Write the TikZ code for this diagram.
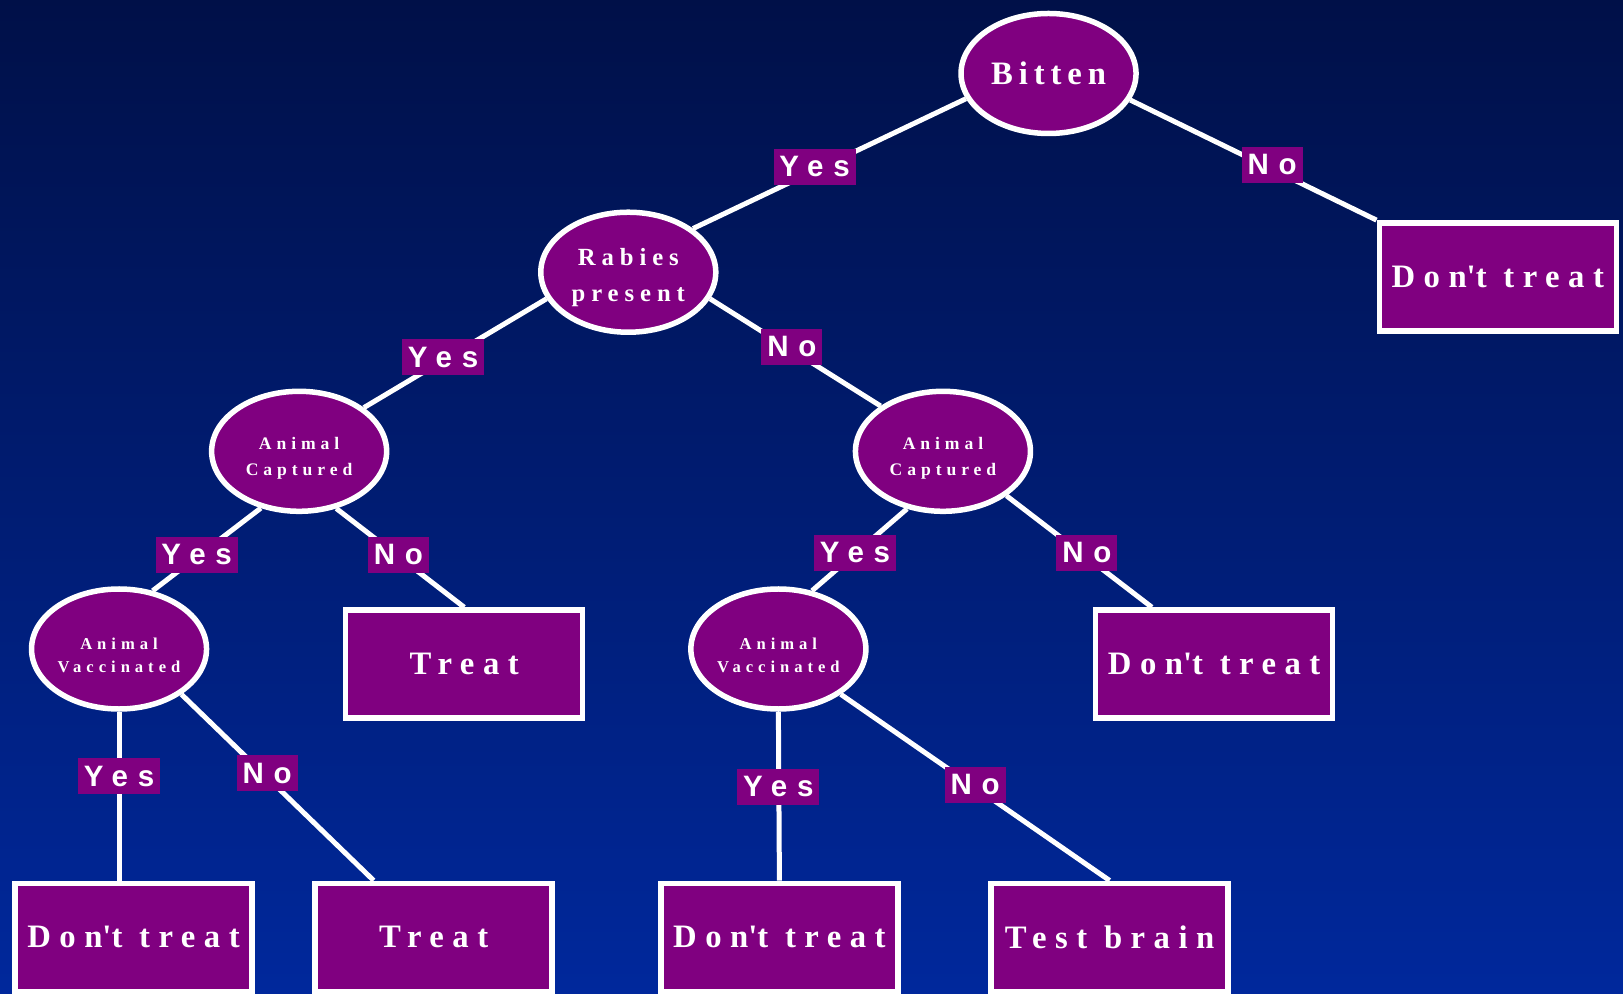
\documentclass[tikz,border=0pt]{standalone}
\usepackage{fontspec}
\newfontfamily\tnr{Liberation Serif}
\newfontfamily\ari{Liberation Sans}
\usetikzlibrary{shapes.geometric,calc}
\definecolor{pur}{HTML}{800080}
\definecolor{bgtop}{RGB}{0,16,72}
\definecolor{bgbot}{RGB}{0,40,156}
\pgfdeclarelayer{bg}
\pgfdeclarelayer{edges}
\pgfsetlayers{bg,edges,main}
\newcommand\lowtxt[2]{\raisebox{-#1}[\height][\depth]{\begin{tabular}{@{}c@{}}#2\end{tabular}}}
\tikzset{
  ell/.style={ellipse, draw=white, line width=5.5pt, fill=pur, minimum width=175pt,
    minimum height=120pt, inner sep=0pt, text=white, align=center},
  leaf/.style={rectangle, draw=white, line width=5.5pt, fill=pur, minimum width=237pt,
    minimum height=108pt, inner sep=0pt, text=white,
    font=\tnr\bfseries\fontsize{32.7pt}{36pt}\selectfont\addfontfeatures{LetterSpace=26}},
  lab/.style={fill=pur, text=white, minimum height=36pt, inner sep=0pt,
    font=\ari\bfseries\fontsize{29.5pt}{30pt}\selectfont\addfontfeatures{LetterSpace=33}},
  yeslab/.style={lab, minimum width=82pt},
  nolab/.style={lab, minimum width=61pt},
  conn/.style={draw=white, line width=5pt},
  bigtxt/.style={font=\tnr\bfseries\fontsize{32.7pt}{36pt}\selectfont\addfontfeatures{LetterSpace=18}},
  midtxt/.style={font=\tnr\bfseries\fontsize{24.7pt}{36pt}\selectfont\addfontfeatures{LetterSpace=24}},
  captxt/.style={font=\tnr\bfseries\fontsize{17.6pt}{26pt}\selectfont\addfontfeatures{LetterSpace=28}},
  vactxt/.style={font=\tnr\bfseries\fontsize{16.6pt}{23pt}\selectfont\addfontfeatures{LetterSpace=30}}
}
\begin{document}
\begin{tikzpicture}[x=1.035pt, y=-1.035pt]
\begin{pgfonlayer}{bg}
  \shade[top color=bgtop, bottom color=bgbot] (0,0) rectangle (1568,960);
\end{pgfonlayer}
\useasboundingbox (0,0) rectangle (1568,960);
\clip (0,0) rectangle (1568,960);

% internal nodes
\node[ell, bigtxt] (bit) at (1013,71) {Bitten};
\node[ell, midtxt] (rab) at (607,263) {\lowtxt{4pt}{Rabies\\present}};
\node[ell, captxt] (acl) at (289,436) {\lowtxt{6pt}{Animal\\Captured}};
\node[ell, captxt] (acr) at (911,436) {\lowtxt{6pt}{Animal\\Captured}};
\node[ell, vactxt] (avl) at (115,627) {\lowtxt{7pt}{Animal\\Vaccinated}};
\node[ell, vactxt] (avr) at (752,627) {\lowtxt{7pt}{Animal\\Vaccinated}};

% leaves
\node[leaf] (dt0) at (1447,267.5) {Don\textquotesingle t treat};
\node[leaf] (t1) at (448.5,641.5) {Treat};
\node[leaf] (dt2) at (1173,641.5) {Don\textquotesingle t treat};
\node[leaf] (dt3) at (129,905.5) {Don\textquotesingle t treat};
\node[leaf] (t2) at (419,905.5) {Treat};
\node[leaf] (dt4) at (753,905.5) {Don\textquotesingle t treat};
\node[leaf] (tb) at (1072,905.5) {Test brain};

% connectors
\begin{pgfonlayer}{edges}
  \draw[conn] (bit.197) -- (rab.34);
  \draw[conn] (bit.342) -- (dt0.north west);
  \draw[conn] (rab.198) -- (acl.34);
  \draw[conn] (rab.342) -- (acr.144);
  \draw[conn] (acl.236) -- (avl.60);
  \draw[conn] (acl.303) -- (t1.north);
  \draw[conn] (acr.238) -- (avr.60);
  \draw[conn] (acr.325) -- ($(dt2.north west)+(57,0)$);
  \draw[conn] (avl.south) -- (avl.south |- dt3.north);
  \draw[conn] (avl.324) -- ($(t2.north)+(-58,0)$);
  \draw[conn] (avr.south) -- (dt4.north);
  \draw[conn] (avr.324) -- (tb.north);
\end{pgfonlayer}

% labels
\node[yeslab] (y1) at (787,161) {Yes};
\node[nolab]  (n1) at (1229,159) {No};
\node[yeslab] (y2) at (428,345) {Yes};
\node[nolab]  (n2) at (765,335) {No};
\node[yeslab] (y3) at (190,536) {Yes};
\node[nolab]  (n3) at (385,536) {No};
\node[yeslab] (y4) at (826,534) {Yes};
\node[nolab]  (n4) at (1050,534) {No};
\node[yeslab] (y5) at (115,750) {Yes};
\node[nolab]  (n5) at (258,747) {No};
\node[yeslab] (y6) at (752,760) {Yes};
\node[nolab]  (n6) at (942,758) {No};
\end{tikzpicture}
\end{document}
